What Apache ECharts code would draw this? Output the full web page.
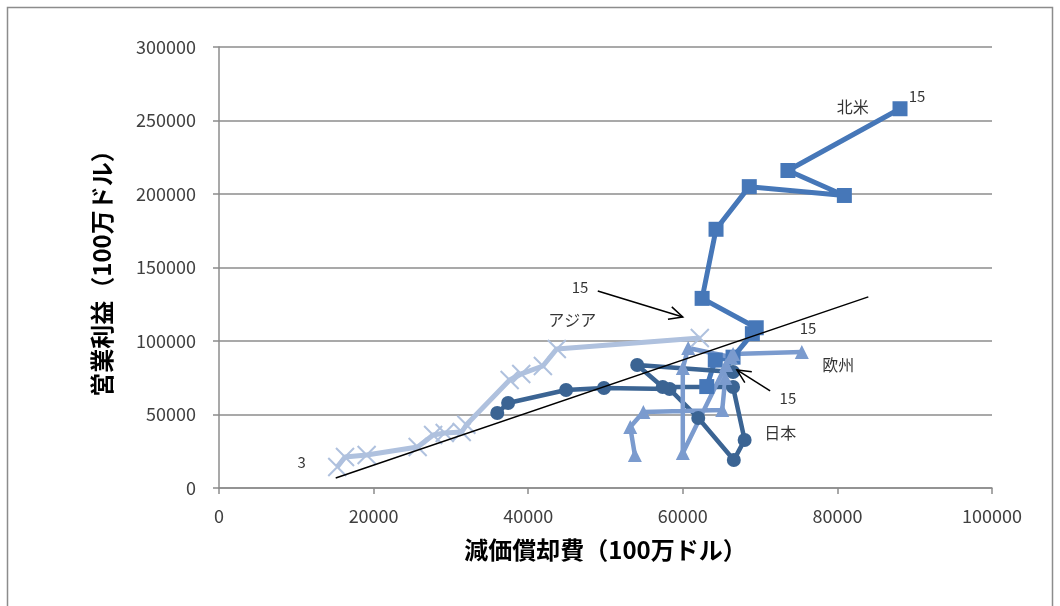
<!DOCTYPE html>
<html>
<head>
<meta charset="utf-8">
<script src="https://cdn.jsdelivr.net/npm/echarts@6/dist/echarts.min.js"></script>
<style>
  html, body { margin: 0; padding: 0; background: #fff; }
  #chart { width: 1060px; height: 606px; }
</style>
</head>
<body>
<div id="chart"></div>
<script>
// 減価償却費 (x) と 営業利益 (y)、単位 100万ドル
const northAmerica = [
    [63100, 69000], [64200, 87000], [66500, 89000], [69000, 105000], [69500, 109000],
    [62500, 129000], [64300, 176000], [68600, 205000], [80900, 199000], [73600, 216000],
    [88100, 258000]
];
const japan = [
    [36000, 51000], [37400, 57800], [44900, 66700], [49800, 68000], [58300, 67300],
    [62000, 47600], [66600, 19000], [68000, 32700], [66500, 68700], [57400, 68700],
    [54100, 83700], [66500, 78900]
];
const asia = [
    [15300, 14300], [16300, 21100], [19100, 22400], [25700, 27900], [27700, 36100],
    [29200, 37400], [31400, 38100], [32000, 43000], [37600, 73500], [39100, 77600],
    [41900, 83000], [43700, 94600], [62200, 102000]
];
const europe = [
    [53800, 22400], [53200, 41500], [54900, 51700], [65100, 53100], [65500, 74800],
    [66200, 89100], [60700, 95200], [60000, 81600], [60000, 23800], [65600, 83700],
    [66500, 91200], [75400, 92500]
];
const trendLine = [[15100, 6800], [84000, 130000]];

// 注記ラベル [x, y, 文字]
const notes = [
    [82000, 259000, '北米'], [90300, 266700, '15'],
    [45700, 114300, 'アジア'], [46700, 136700, '15'],
    [80100, 83700, '欧州'], [76200, 108800, '15'],
    [72600, 37400, '日本'], [73600, 61200, '15'],
    [10700, 17700, '3']
];
// 矢印 [始点x, 始点y, 終点x, 終点y]
const arrows = [
    [49000, 134000, 60000, 116300],
    [71300, 66000, 67000, 80300]
];

const xTicks = { min: 0, max: 100000, interval: 20000 };
const yTicks = { min: 0, max: 300000, interval: 50000 };

const colors = {
    na: '#4677b8',
    jp: '#3b6493',
    as: '#afc1de',
    eu: '#7b9bce'
};

const chart = echarts.init(document.getElementById('chart'));
const font = '"Noto Sans CJK JP", "Noto Sans", sans-serif';

function lineSeries(name, data, color, symbol, size, width, extra) {
    return Object.assign({
        name: name,
        type: 'line',
        data: data,
        symbol: symbol,
        symbolSize: size,
        showSymbol: true,
        lineStyle: { color: color, width: width },
        itemStyle: { color: color },
        emphasis: { disabled: true },
        silent: true,
        z: 2
    }, extra || {});
}

const plain = function (v) { return String(v); };

const option = {
    animation: false,
    backgroundColor: '#ffffff',
    textStyle: { fontFamily: font },
    graphic: [{
        type: 'rect',
        shape: { x: 7.5, y: 7.5, width: 1045, height: 640 },
        style: { fill: 'none', stroke: '#8c8c8c', lineWidth: 1.5 },
        silent: true
    }],
    grid: { left: 219, right: 68, top: 47, bottom: 118 },
    xAxis: {
        type: 'value',
        min: xTicks.min,
        max: xTicks.max,
        interval: xTicks.interval,
        name: '減価償却費（100万ドル）',
        nameLocation: 'middle',
        nameGap: 50,
        nameTextStyle: { fontFamily: font, fontSize: 24, fontWeight: 'bold', color: '#000' },
        axisLine: { show: true, lineStyle: { color: '#8c8c8c', width: 1.5 } },
        axisTick: { show: true, length: 6, inside: false, lineStyle: { color: '#8c8c8c', width: 1.5 } },
        axisLabel: { fontFamily: font, fontSize: 18, color: '#404040', margin: 19, formatter: plain },
        splitLine: { show: false }
    },
    yAxis: {
        type: 'value',
        min: yTicks.min,
        max: yTicks.max,
        interval: yTicks.interval,
        name: '営業利益（100万ドル）',
        nameLocation: 'middle',
        nameGap: 105,
        nameRotate: 90,
        nameTextStyle: { fontFamily: font, fontSize: 24, fontWeight: 'bold', color: '#000' },
        axisLine: { show: true, lineStyle: { color: '#8c8c8c', width: 1.5 } },
        axisTick: { show: true, length: 6, inside: false, lineStyle: { color: '#8c8c8c', width: 1.5 } },
        axisLabel: { fontFamily: font, fontSize: 18, color: '#404040', margin: 23, formatter: plain },
        splitLine: { show: true, lineStyle: { color: '#8c8c8c', width: 1.5 } }
    },
    series: [
        lineSeries('北米', northAmerica, colors.na, 'rect', 15, 5),
        lineSeries('日本', japan, colors.jp, 'circle', 14, 4.5),
        lineSeries('アジア', asia, colors.as, 'path://M0,0L10,10M10,0L0,10', 18, 5, {
            itemStyle: { color: 'rgba(0,0,0,0)', borderColor: colors.as, borderWidth: 2 }
        }),
        lineSeries('欧州', europe, colors.eu, 'triangle', 14, 4.5),
        {
            name: 'trend',
            type: 'line',
            data: trendLine,
            symbol: 'none',
            lineStyle: { color: '#000', width: 1.5 },
            silent: true,
            z: 5
        },
        {
            name: 'notes',
            type: 'scatter',
            symbolSize: 0,
            silent: true,
            z: 6,
            data: notes.map(function (n) {
                return {
                    value: [n[0], n[1]],
                    label: {
                        show: true,
                        position: 'inside',
                        formatter: n[2],
                        fontFamily: font,
                        fontSize: isNaN(+n[2]) ? 16 : 15,
                        color: '#000'
                    }
                };
            })
        },
        {
            name: 'arrows',
            type: 'custom',
            silent: true,
            z: 6,
            data: arrows,
            renderItem: function (params, api) {
                const p0 = api.coord([api.value(0), api.value(1)]);
                const p1 = api.coord([api.value(2), api.value(3)]);
                const ang = Math.atan2(p1[1] - p0[1], p1[0] - p0[0]);
                const len = 15, spread = 0.45;
                const a = [p1[0] - len * Math.cos(ang - spread), p1[1] - len * Math.sin(ang - spread)];
                const b = [p1[0] - len * Math.cos(ang + spread), p1[1] - len * Math.sin(ang + spread)];
                return {
                    type: 'group',
                    children: [
                        { type: 'line', shape: { x1: p0[0], y1: p0[1], x2: p1[0], y2: p1[1] },
                          style: { stroke: '#000', lineWidth: 1.5 } },
                        { type: 'polyline', shape: { points: [a, p1, b] },
                          style: { stroke: '#000', lineWidth: 1.5, fill: 'none' } }
                    ]
                };
            }
        }
    ]
};

chart.setOption(option);
</script>
</body>
</html>
